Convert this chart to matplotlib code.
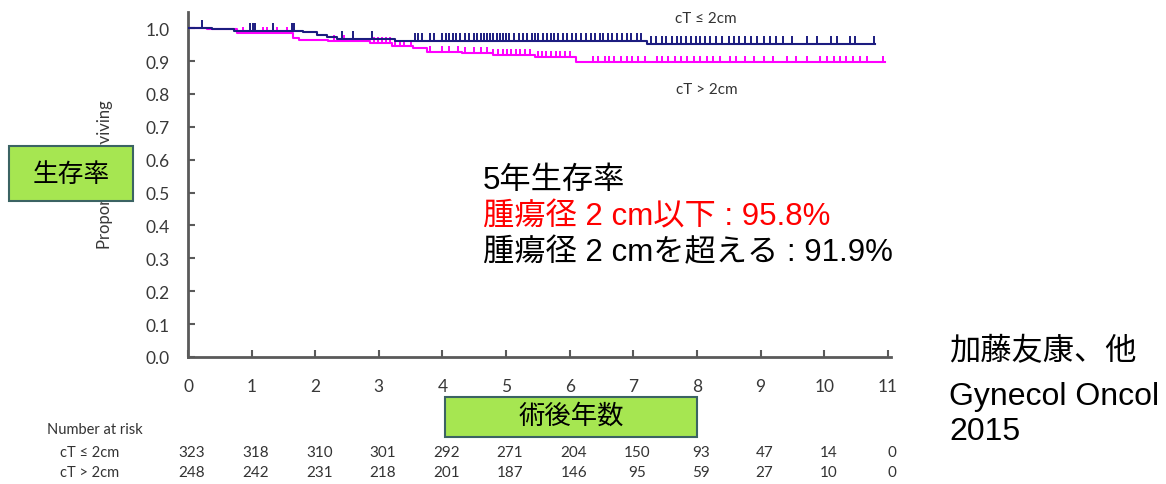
import matplotlib
matplotlib.use('Agg')
import matplotlib.pyplot as plt
import numpy as np
from matplotlib.patches import Rectangle

# ---------------- data ----------------
blue_t = [0, 0.38, 0.72, 1.81, 2.03, 2.18, 2.34, 3.25, 7.22, 10.8]
blue_s = [1.0, 0.996, 0.992, 0.987, 0.979, 0.972, 0.968, 0.962, 0.951, 0.951]

mag_t = [0, 0.3, 0.77, 1.65, 1.75, 2.2, 2.86, 3.2, 3.54, 3.76, 4.3, 4.8, 5.45, 6.1, 10.96]
mag_s = [1.0, 0.997, 0.985, 0.969, 0.964, 0.961, 0.954, 0.947, 0.940, 0.928,
         0.924, 0.919, 0.912, 0.896, 0.896]

blue_cens = [0.22, 0.97, 1.02, 1.06, 1.34, 1.63, 1.67, 2.42, 2.6, 2.9,
             3.57, 3.62, 3.68, 3.8, 3.86, 4.0, 4.05, 4.1, 4.17, 4.22, 4.28, 4.36,
             4.42, 4.5, 4.55, 4.6, 4.66, 4.7, 4.75, 4.8, 4.86, 4.9, 4.95, 5.0,
             5.05, 5.12, 5.2, 5.26, 5.33, 5.4, 5.45, 5.5, 5.58, 5.64, 5.7, 5.76,
             5.82, 5.9, 5.96, 6.03, 6.1, 6.18, 6.25, 6.33, 6.4, 6.47, 6.52, 6.6,
             6.66, 6.75, 6.82, 6.9, 6.97, 7.05, 7.12, 7.28, 7.35, 7.45, 7.52,
             7.6, 7.68, 7.75, 7.82, 7.9, 7.98, 8.05, 8.12, 8.2, 8.3, 8.4, 8.5,
             8.58, 8.66, 8.75, 8.85, 8.95, 9.05, 9.15, 9.25, 9.35, 9.5, 9.73,
             9.89, 10.1, 10.2, 10.4, 10.49, 10.78]

mag_cens = [0.86, 1.18, 1.24, 1.4, 1.56, 2.3, 2.45, 2.6, 2.92, 2.98, 3.05,
            3.12, 3.18, 3.25, 3.33, 3.4, 3.5, 3.8, 4.0, 4.1, 4.25, 4.35, 4.5,
            4.6, 4.7, 4.8, 4.88, 4.95, 5.02, 5.08, 5.15, 5.22, 5.3, 5.38, 5.5,
            5.56, 5.62, 5.7, 5.78, 5.85, 5.92, 6.0, 6.37, 6.45, 6.55, 6.62, 6.7,
            6.8, 6.9, 6.98, 7.08, 7.18, 7.37, 7.45, 7.55, 7.65, 7.75, 7.85,
            7.95, 8.05, 8.15, 8.25, 8.36, 8.52, 8.62, 8.75, 8.9, 9.05, 9.2,
            9.42, 9.55, 9.73, 9.94, 10.05, 10.15, 10.25, 10.35, 10.45, 10.57,
            10.67, 10.93]

x_ticks = list(range(0, 12))
y_ticks = [0.0, 0.1, 0.2, 0.3, 0.4, 0.5, 0.6, 0.7, 0.8, 0.9, 1.0]

risk_times = list(range(0, 12))
risk_small = [323, 318, 310, 301, 292, 271, 204, 150, 93, 47, 14, 0]
risk_large = [248, 242, 231, 218, 201, 187, 146, 95, 59, 27, 10, 0]

# ---------------- figure ----------------
W, H = 1166, 485
fig = plt.figure(figsize=(W / 100, H / 100), dpi=100)
fig.patch.set_facecolor('white')

def fx(px):
    return px / W

def fy(py):
    return 1 - py / H

ax = fig.add_axes([fx(188), fy(358), fx(891) - fx(188), fy(13) - fy(358)])
ax.set_xlim(0, 11.05)
ax.set_ylim(0, 1.049)

BLUE = '#1c1c80'
MAG = '#ff00ff'
GRAY = '#383838'

ax.step(blue_t, blue_s, where='post', color=BLUE, lw=1.5, zorder=3)
ax.step(mag_t, mag_s, where='post', color=MAG, lw=1.5, zorder=2)

def surv_at(ts, ss, c):
    idx = np.searchsorted(ts, c, side='right') - 1
    return np.asarray(ss)[idx]

bc = np.array(blue_cens)
bs = surv_at(blue_t, blue_s, bc)
ax.vlines(bc, bs, bs + 0.024, color=BLUE, lw=1.4, zorder=3)
mc = np.array(mag_cens)
ms = surv_at(mag_t, mag_s, mc)
ax.vlines(mc, ms, ms + 0.018, color=MAG, lw=1.4, zorder=2)

for s in ['top', 'right']:
    ax.spines[s].set_visible(False)
for s in ['left', 'bottom']:
    ax.spines[s].set_color('#5a5a5a')
    ax.spines[s].set_linewidth(2)

small_font = ['Lato', 'DejaVu Sans']
ax.set_xticks(x_ticks)
ax.set_yticks(y_ticks)
ax.set_yticklabels([f'{v:.1f}' for v in y_ticks])
ax.tick_params(axis='both', direction='in', length=5, width=1.5, color='#5a5a5a',
               labelcolor=GRAY, labelsize=12.5)
ax.tick_params(axis='y', pad=13)
ax.tick_params(axis='x', pad=15)
for lab in ax.get_xticklabels() + ax.get_yticklabels():
    lab.set_family(small_font)

# curve labels
fig.text(fx(706), fy(19), 'cT ≤ 2cm', ha='center', va='center', fontsize=11,
         color='#333333', family=small_font)
fig.text(fx(707), fy(90), 'cT > 2cm', ha='center', va='center', fontsize=11,
         color='#333333', family=small_font)

# y label (partly hidden behind the green box, as in the reference)
fig.text(fx(105), fy(175), 'Proportion surviving', rotation=90, ha='center',
         va='center', fontsize=12, color=GRAY, family=small_font)

GREEN = '#a6e651'
EDGE = '#3b6363'
fig.patches.append(Rectangle((fx(9), fy(202)), fx(133) - fx(9), fy(147) - fy(202),
                             transform=fig.transFigure, facecolor=GREEN,
                             edgecolor=EDGE, lw=1.5, zorder=5))
fig.text(fx(71), fy(175), '生存率', ha='center', va='center', fontsize=18.5,
         family=['Noto Sans CJK JP'], color='black', zorder=6)

fig.patches.append(Rectangle((fx(445), fy(438)), fx(697) - fx(445), fy(398) - fy(438),
                             transform=fig.transFigure, facecolor=GREEN,
                             edgecolor=EDGE, lw=1.5, zorder=5))
fig.text(fx(571), fy(416), '術後年数', ha='center', va='center', fontsize=19,
         family=['Noto Sans CJK JP'], color='black', zorder=6)

big_font = ['Liberation Sans', 'Noto Sans CJK JP']
fig.text(fx(483), fy(181), '5年生存率', ha='left', va='center', fontsize=22.5,
         family=big_font, color='black')
fig.text(fx(483), fy(217), '腫瘍径 2 cm以下 : 95.8%', ha='left', va='center',
         fontsize=22.5, family=big_font, color='#ff0000')
fig.text(fx(483), fy(253), '腫瘍径 2 cmを超える : 91.9%', ha='left', va='center',
         fontsize=22.5, family=big_font, color='black')

fig.text(fx(949), fy(352), '加藤友康、他', ha='left', va='center', fontsize=22.5,
         family=big_font, color='black')
fig.text(fx(949), fy(397), 'Gynecol Oncol', ha='left', va='center', fontsize=23,
         family=big_font, color='black')
fig.text(fx(949), fy(432), '2015', ha='left', va='center', fontsize=23,
         family=big_font, color='black')

# number at risk
fig.text(fx(47), fy(430), 'Number at risk', ha='left', va='center', fontsize=10.5,
         color='#333333', family=small_font)
fig.text(fx(60), fy(453), 'cT ≤ 2cm', ha='left', va='center', fontsize=10.5,
         color='#333333', family=small_font)
fig.text(fx(60), fy(473), 'cT > 2cm', ha='left', va='center', fontsize=10.5,
         color='#333333', family=small_font)
for t, a, b in zip(risk_times, risk_small, risk_large):
    xp = ax.transData.transform((t, 0))[0] / W
    fig.text(xp + fx(4), fy(453), str(a), ha='center', va='center', fontsize=11,
             color='#333333', family=small_font)
    fig.text(xp + fx(4), fy(473), str(b), ha='center', va='center', fontsize=11,
             color='#333333', family=small_font)

fig.savefig('out.png', dpi=100)
